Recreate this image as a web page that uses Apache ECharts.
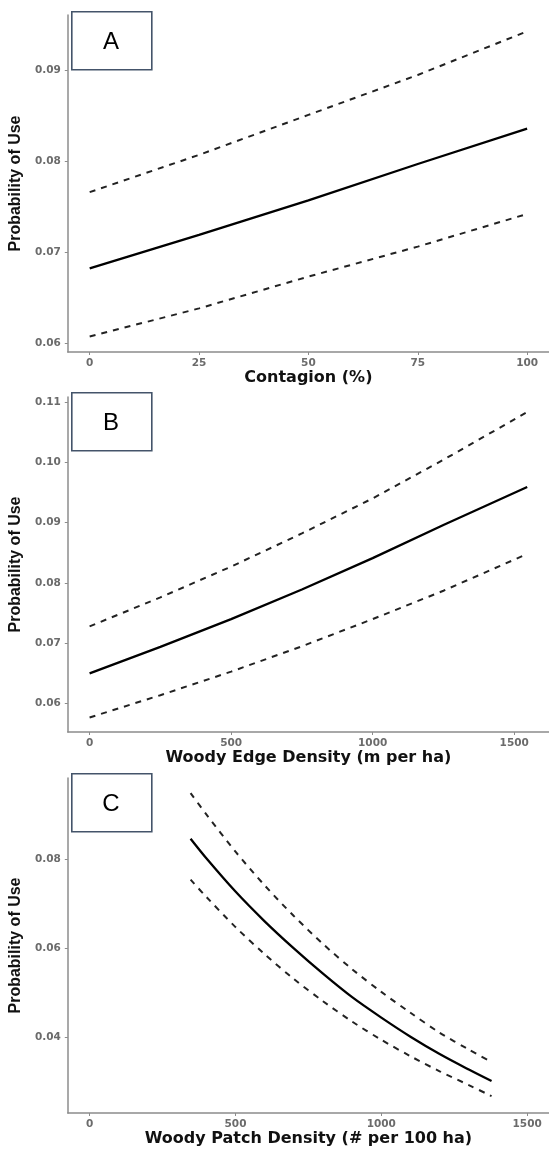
<!DOCTYPE html>
<html>
<head>
    <meta charset="UTF-8">
    <title>Probability of Use</title>
    <script src="https://cdn.jsdelivr.net/npm/echarts@6/dist/echarts.min.js"></script>
    <style>
        html, body {
            margin: 0;
            padding: 0;
            background: #fff;
        }

        #chart {
            width: 549px;
            height: 1149px;
        }
    </style>
</head>
<body>
<div id="chart"></div>
<script>
    // A - contagion
    var contagionX = [0, 25, 50, 75, 100];
    var contagionFit = [0.0682, 0.0719, 0.0757, 0.0797, 0.0836];
    var contagionUpper = [0.0766, 0.0807, 0.0851, 0.0895, 0.0943];
    var contagionLower = [0.0607, 0.0638, 0.0673, 0.0706, 0.0742];
    var contagionXTicks = [0, 25, 50, 75, 100];
    var contagionYTicks = [0.06, 0.07, 0.08, 0.09];

    // B - woody edge density
    var edgeX = [0, 250, 500, 750, 1000, 1250, 1546];
    var edgeFit = [0.0650, 0.0694, 0.0740, 0.0789, 0.0841, 0.0896, 0.0959];
    var edgeUpper = [0.0728, 0.0776, 0.0827, 0.0882, 0.0940, 0.1004, 0.1083];
    var edgeLower = [0.0577, 0.0614, 0.0653, 0.0695, 0.0740, 0.0787, 0.0848];
    var edgeXTicks = [0, 500, 1000, 1500];
    var edgeYTicks = [0.06, 0.07, 0.08, 0.09, 0.10, 0.11];

    // C - woody patch density
    var patchX = [346, 400, 500, 600, 700, 800, 900, 1000, 1100, 1200, 1300, 1378];
    var patchFit = [0.0847, 0.0803, 0.0728, 0.0661, 0.0600, 0.0543, 0.0490, 0.0444, 0.0401, 0.0362, 0.0327, 0.0301];
    var patchUpper = [0.0950, 0.0902, 0.0818, 0.0742, 0.0673, 0.0610, 0.0553, 0.0502, 0.0455, 0.0410, 0.0372, 0.0344];
    var patchLower = [0.0755, 0.0716, 0.0648, 0.0587, 0.0531, 0.0481, 0.0435, 0.0394, 0.0357, 0.0323, 0.0292, 0.0267];
    var patchXTicks = [0, 500, 1000, 1500];
    var patchYTicks = [0.04, 0.06, 0.08];

    var panelLetters = ['A', 'B', 'C'];
    var xTitles = ['Contagion (%)', 'Woody Edge Density (m per ha)', 'Woody Patch Density (# per 100 ha)'];
    var yTitle = 'Probability of Use';

    var axisGray = '#8c8c8c';

    var zip = function (xs, ys) {
        return xs.map(function (x, i) {
            return [x, ys[i]];
        });
    };

    var makeX = function (idx, min, max, ticks, gap) {
        return {
            type: 'value', gridIndex: idx, min: min, max: max,
            name: xTitles[idx], nameLocation: 'middle', nameGap: gap,
            nameTextStyle: {fontFamily: 'DejaVu Sans', fontWeight: 'bold', fontSize: 16, color: '#111'},
            splitLine: {show: false},
            axisLine: {onZero: false, lineStyle: {color: axisGray, width: 1.5}},
            axisTick: {customValues: ticks, length: 3, lineStyle: {color: axisGray, width: 1}},
            axisLabel: {
                customValues: ticks, margin: 6, color: '#6b6b6b',
                fontFamily: 'DejaVu Sans', fontWeight: 'bold', fontSize: 10.5,
                formatter: function (v) {
                    return String(v);
                }
            }
        };
    };

    var makeY = function (idx, min, max, ticks) {
        return {
            type: 'value', gridIndex: idx, min: min, max: max,
            name: yTitle, nameLocation: 'middle', nameGap: 39, nameRotate: 90,
            nameTextStyle: {fontFamily: 'Liberation Sans', fontWeight: 'bold', fontSize: 16, color: '#111'},
            splitLine: {show: false},
            axisLine: {show: true, onZero: false, lineStyle: {color: axisGray, width: 1.5}},
            axisTick: {show: true, customValues: ticks, length: 3, lineStyle: {color: axisGray, width: 1}},
            axisLabel: {
                customValues: ticks, margin: 7, color: '#6b6b6b',
                fontFamily: 'DejaVu Sans', fontWeight: 'bold', fontSize: 10.5,
                formatter: function (v) {
                    return v.toFixed(2);
                }
            }
        };
    };

    // panel C bends more, so only that one gets smoothed
    var makeLine = function (idx, xs, ys, dashed) {
        return {
            type: 'line', xAxisIndex: idx, yAxisIndex: idx,
            data: zip(xs, ys), showSymbol: false, silent: true,
            smooth: idx === 2 ? 0.3 : false,
            lineStyle: dashed
                ? {color: '#222', width: 2, type: [6, 6]}
                : {color: '#000', width: 2.3}
        };
    };

    var boxTops = [11, 392, 773];
    var graphics = [];
    boxTops.forEach(function (top, i) {
        graphics.push({
            type: 'rect', left: 71, top: top,
            shape: {width: 80, height: 58},
            style: {fill: '#fff', stroke: '#44546a', lineWidth: 1.6}
        });
        graphics.push({
            type: 'text', x: 111, y: top + 31,
            style: {
                text: panelLetters[i], fontFamily: 'Liberation Sans', fontSize: 24,
                fill: '#000', align: 'center', verticalAlign: 'middle'
            }
        });
    });

    var chart = echarts.init(document.getElementById('chart'), null, {renderer: 'canvas'});
    chart.setOption({
        animation: false,
        backgroundColor: '#fff',
        grid: [
            {left: 65.5, top: 15, width: 489, height: 337},
            {left: 65.5, top: 397, width: 489, height: 335},
            {left: 65.5, top: 778, width: 489, height: 335}
        ],
        xAxis: [
            makeX(0, -5, 105, contagionXTicks, 17),
            makeX(1, -77, 1623, edgeXTicks, 17),
            makeX(2, -75, 1575, patchXTicks, 16)
        ],
        yAxis: [
            makeY(0, 0.0590, 0.0961, contagionYTicks),
            makeY(1, 0.0553, 0.1108, edgeYTicks),
            makeY(2, 0.0229, 0.0984, patchYTicks)
        ],
        series: [
            makeLine(0, contagionX, contagionUpper, true),
            makeLine(0, contagionX, contagionLower, true),
            makeLine(0, contagionX, contagionFit, false),
            makeLine(1, edgeX, edgeUpper, true),
            makeLine(1, edgeX, edgeLower, true),
            makeLine(1, edgeX, edgeFit, false),
            makeLine(2, patchX, patchUpper, true),
            makeLine(2, patchX, patchLower, true),
            makeLine(2, patchX, patchFit, false)
        ],
        graphic: graphics
    });
</script>
</body>
</html>
